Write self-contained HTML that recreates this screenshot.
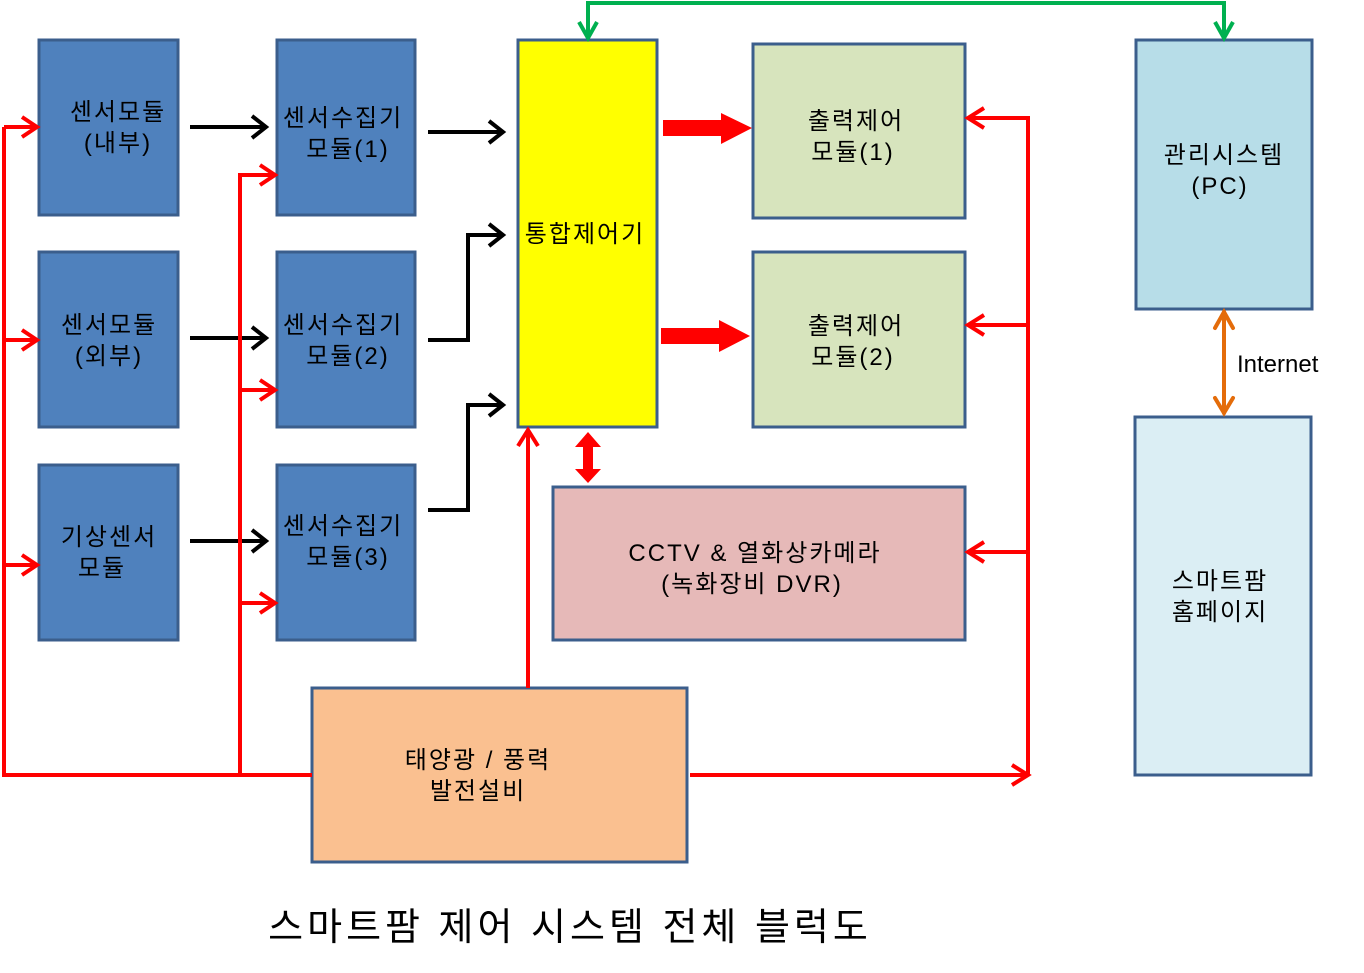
<!DOCTYPE html>
<html><head><meta charset="utf-8"><style>
html,body{margin:0;padding:0;background:#fff;}
svg{display:block;}
text{font-family:"Liberation Sans","Noto Sans CJK KR",sans-serif;font-size:24px;fill:#000;letter-spacing:2px;}
</style></head><body>
<svg width="1364" height="973" viewBox="0 0 1364 973" xmlns="http://www.w3.org/2000/svg">
<g stroke="#3b5e8c" stroke-width="3">
<rect x="39" y="40" width="139" height="175" fill="#4f81bd"/>
<rect x="39" y="252" width="139" height="175" fill="#4f81bd"/>
<rect x="39" y="465" width="139" height="175" fill="#4f81bd"/>
<rect x="277" y="40" width="138" height="175" fill="#4f81bd"/>
<rect x="277" y="252" width="138" height="175" fill="#4f81bd"/>
<rect x="277" y="465" width="138" height="175" fill="#4f81bd"/>
<rect x="518" y="40" width="139" height="387" fill="#ffff00"/>
<rect x="753" y="44" width="212" height="174" fill="#d7e4bd"/>
<rect x="753" y="252" width="212" height="175" fill="#d7e4bd"/>
<rect x="553" y="487" width="412" height="153" fill="#e6b9b8"/>
<rect x="1136" y="40" width="176" height="269" fill="#b7dde8"/>
<rect x="1135" y="417" width="176" height="358" fill="#dbeef4"/>
<rect x="312" y="688" width="375" height="174" fill="#fac090"/>
</g>
<g text-anchor="middle">
<text x="118" y="120">센서모듈</text><text x="118" y="151">(내부)</text>
<text x="109" y="333">센서모듈</text><text x="109" y="364">(외부)</text>
<text x="109" y="545">기상센서</text><text x="102" y="576">모듈</text>
<text x="343" y="126">센서수집기</text><text x="348" y="157">모듈(1)</text>
<text x="343" y="333">센서수집기</text><text x="348" y="364">모듈(2)</text>
<text x="343" y="534">센서수집기</text><text x="348" y="565">모듈(3)</text>
<text x="585" y="242">통합제어기</text>
<text x="856" y="129">출력제어</text><text x="853" y="160">모듈(1)</text>
<text x="856" y="334">출력제어</text><text x="853" y="365">모듈(2)</text>
<text x="755" y="561">CCTV &amp; 열화상카메라</text><text x="752" y="592">(녹화장비 DVR)</text>
<text x="1224" y="163">관리시스템</text><text x="1220" y="194">(PC)</text>
<text x="1220" y="589">스마트팜</text><text x="1220" y="620">홈페이지</text>
<text x="478" y="768">태양광 / 풍력</text><text x="478" y="799">발전설비</text>
<text x="570" y="940" style="font-size:38px;letter-spacing:4px">스마트팜 제어 시스템 전체 블럭도</text>
</g>
<text x="1237" y="372" style="letter-spacing:0">Internet</text>
<g fill="none" stroke="#000" stroke-width="4">
<path d="M190 127H266M252 116L266 127L252 138"/>
<path d="M428 132H503M489 121L503 132L489 143"/>
<path d="M190 338H266M252 327L266 338L252 349"/>
<path d="M428 340H468V235H503M489 224L503 235L489 246"/>
<path d="M428 510H468V405H503M489 394L503 405L489 416"/>
<path d="M190 541H266M252 530L266 541L252 552"/>
</g>
<g fill="none" stroke="#ff0000" stroke-width="4">
<path d="M4 127V775H312"/>
<path d="M4 127H37M22 117L37 127L22 137"/>
<path d="M4 340H37M22 330L37 340L22 350"/>
<path d="M4 565H37M22 555L37 565L22 575"/>
<path d="M240 775V175H275M260 165L275 175L260 185"/>
<path d="M240 390H275M260 380L275 390L260 400"/>
<path d="M240 603H275M260 593L275 603L260 613"/>
<path d="M528 688V430M518 446L528 430L538 446"/>
<path d="M690 775H1028M1012 765L1028 775L1012 785"/>
<path d="M1028 775V118H968M984 108L968 118L984 128"/>
<path d="M1028 325H968M984 315L968 325L984 335"/>
<path d="M1028 552H968M984 542L968 552L984 562"/>
</g>
<g fill="#ff0000">
<polygon points="663,120 721,120 721,113 752,128 721,144 721,136 663,136"/>
<polygon points="661,328 719,328 719,320 750,336 719,352 719,344 661,344"/>
<polygon points="588,432 601,447 593,447 593,469 601,469 588,483 575,469 583,469 583,447 575,447"/>
</g>
<g fill="none" stroke="#00b050" stroke-width="4">
<path d="M588 38V3H1224V38"/>
<path d="M579 22L588 38L597 22"/>
<path d="M1215 22L1224 38L1233 22"/>
</g>
<g fill="none" stroke="#e46c0a" stroke-width="4" stroke-linecap="round">
<path d="M1224 312V413"/>
<path d="M1215 328L1224 312L1233 328"/>
<path d="M1215 398L1224 413L1233 398"/>
</g>
</svg>
</body></html>
